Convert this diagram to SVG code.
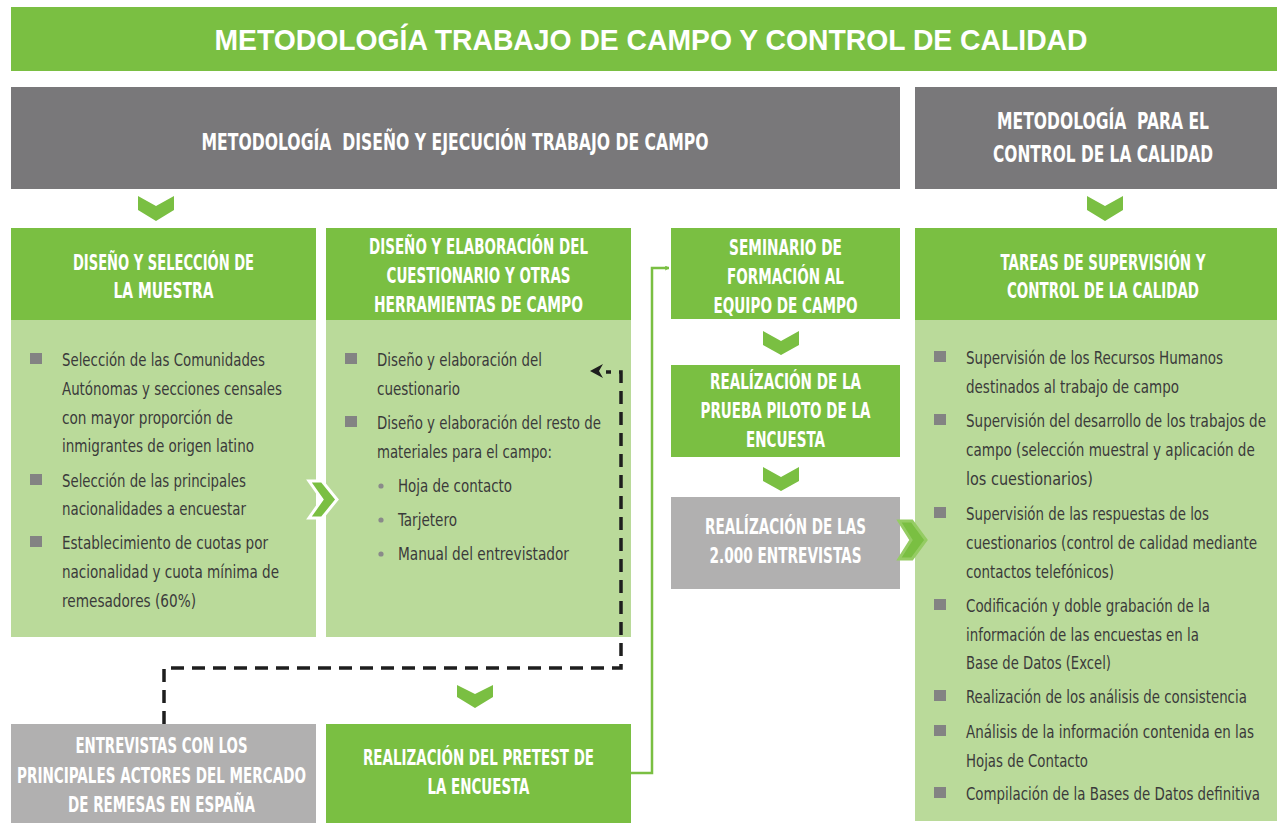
<svg xmlns="http://www.w3.org/2000/svg" width="1288" height="823" viewBox="0 0 1288 823">
<defs>
<style>
.g{fill:#7ABF42}
.lg{fill:#BADA9A}
.dg{fill:#79787A}
.gy{fill:#B1B0B0}
.h{font-family:"Liberation Sans Narrow","DejaVu Sans Condensed","Liberation Sans",sans-serif;font-weight:bold;font-size:20.5px;fill:#fff;text-anchor:middle}
.hb{font-size:22.5px}
.t{font-family:"Liberation Sans Narrow","DejaVu Sans Condensed","Liberation Sans",sans-serif;font-size:18.5px;fill:#3a3a3a}
.sq{fill:#838383}
.dot{fill:#8a8a8a}
.chev{fill:#7ABF42}
</style>
<marker id="ga" viewBox="0 0 10 10" refX="9" refY="5" markerWidth="5" markerHeight="5" orient="auto" markerUnits="userSpaceOnUse">
<polyline points="1,1 9,5 1,9" fill="none" stroke="#7ABF42" stroke-width="2"/>
</marker>
</defs>
<rect width="1288" height="823" fill="#fff"/>

<g id="title">
<rect x="11" y="7" width="1266" height="64" class="g"/>
<text x="651" y="50" font-family="Liberation Sans,Arial,sans-serif" font-weight="bold" font-size="29.5" fill="#fff" text-anchor="middle" textLength="873" lengthAdjust="spacingAndGlyphs">METODOLOGÍA TRABAJO DE CAMPO Y CONTROL DE CALIDAD</text>
</g>

<g id="hdr-diseno">
<rect x="11" y="87" width="889" height="102" class="dg"/>
<text class="h hb" x="455" y="150" textLength="507" lengthAdjust="spacingAndGlyphs" xml:space="preserve">METODOLOGÍA  DISEÑO Y EJECUCIÓN TRABAJO DE CAMPO</text>
</g>

<g id="hdr-control">
<rect x="915" y="87" width="362" height="102" class="dg"/>
<text class="h hb" x="1103" y="129" textLength="212" lengthAdjust="spacingAndGlyphs" xml:space="preserve">METODOLOGÍA  PARA EL</text>
<text class="h hb" x="1103" y="162" textLength="220" lengthAdjust="spacingAndGlyphs">CONTROL DE LA CALIDAD</text>
</g>

<g id="muestra">
<rect x="11" y="228" width="305" height="92" class="g"/>
<rect x="11" y="320" width="305" height="317" class="lg"/>
<text class="h" x="163.5" y="270" textLength="181" lengthAdjust="spacingAndGlyphs">DISEÑO Y SELECCIÓN DE</text>
<text class="h" x="163.5" y="298" textLength="100" lengthAdjust="spacingAndGlyphs">LA MUESTRA</text>
<rect class="sq" x="30" y="353" width="12" height="11"/>
<rect class="sq" x="30" y="474" width="12" height="11"/>
<rect class="sq" x="30" y="536" width="12" height="11"/>
<text class="t" x="62" y="366" textLength="203" lengthAdjust="spacingAndGlyphs">Selección de las Comunidades</text>
<text class="t" x="62" y="395" textLength="220" lengthAdjust="spacingAndGlyphs">Autónomas y secciones censales</text>
<text class="t" x="62" y="424" textLength="171" lengthAdjust="spacingAndGlyphs">con mayor proporción de</text>
<text class="t" x="62" y="452" textLength="192" lengthAdjust="spacingAndGlyphs">inmigrantes de origen latino</text>
<text class="t" x="62" y="487" textLength="184" lengthAdjust="spacingAndGlyphs">Selección de las principales</text>
<text class="t" x="62" y="515" textLength="184" lengthAdjust="spacingAndGlyphs">nacionalidades a encuestar</text>
<text class="t" x="62" y="549" textLength="206" lengthAdjust="spacingAndGlyphs">Establecimiento de cuotas por</text>
<text class="t" x="62" y="578" textLength="217" lengthAdjust="spacingAndGlyphs">nacionalidad y cuota mínima de</text>
<text class="t" x="62" y="607" textLength="134" lengthAdjust="spacingAndGlyphs">remesadores (60%)</text>
</g>

<g id="cuestionario">
<rect x="326" y="228" width="305" height="92" class="g"/>
<rect x="326" y="320" width="305" height="317" class="lg"/>
<text class="h" x="478.5" y="254" textLength="219" lengthAdjust="spacingAndGlyphs">DISEÑO Y ELABORACIÓN DEL</text>
<text class="h" x="478.5" y="283" textLength="184" lengthAdjust="spacingAndGlyphs">CUESTIONARIO Y OTRAS</text>
<text class="h" x="478.5" y="312" textLength="209" lengthAdjust="spacingAndGlyphs">HERRAMIENTAS DE CAMPO</text>
<rect class="sq" x="345" y="353" width="12" height="11"/>
<rect class="sq" x="345" y="416" width="12" height="11"/>
<text class="t" x="377" y="366" textLength="165" lengthAdjust="spacingAndGlyphs">Diseño y elaboración del</text>
<text class="t" x="377" y="395" textLength="83" lengthAdjust="spacingAndGlyphs">cuestionario</text>
<text class="t" x="377" y="429" textLength="224" lengthAdjust="spacingAndGlyphs">Diseño y elaboración del resto de</text>
<text class="t" x="377" y="458" textLength="175" lengthAdjust="spacingAndGlyphs">materiales para el campo:</text>
<circle class="dot" cx="381" cy="486" r="2.6"/>
<circle class="dot" cx="381" cy="520" r="2.6"/>
<circle class="dot" cx="381" cy="554" r="2.6"/>
<text class="t" x="398" y="492" textLength="114" lengthAdjust="spacingAndGlyphs">Hoja de contacto</text>
<text class="t" x="398" y="526" textLength="59" lengthAdjust="spacingAndGlyphs">Tarjetero</text>
<text class="t" x="398" y="560" textLength="171" lengthAdjust="spacingAndGlyphs">Manual del entrevistador</text>
</g>

<g id="seminario">
<rect x="671" y="228" width="229" height="91" class="g"/>
<text class="h" x="785.5" y="255" textLength="113" lengthAdjust="spacingAndGlyphs">SEMINARIO DE</text>
<text class="h" x="785.5" y="284" textLength="117" lengthAdjust="spacingAndGlyphs">FORMACIÓN AL</text>
<text class="h" x="785.5" y="313" textLength="144" lengthAdjust="spacingAndGlyphs">EQUIPO DE CAMPO</text>
</g>

<g id="piloto">
<rect x="671" y="365" width="229" height="92" class="g"/>
<text class="h" x="785.5" y="389" textLength="151" lengthAdjust="spacingAndGlyphs">REALÍZACIÓN DE LA</text>
<text class="h" x="785.5" y="418" textLength="170" lengthAdjust="spacingAndGlyphs">PRUEBA PILOTO DE LA</text>
<text class="h" x="785.5" y="447" textLength="79" lengthAdjust="spacingAndGlyphs">ENCUESTA</text>
</g>

<g id="entrevistas2000">
<rect x="671" y="497" width="229" height="92" class="gy"/>
<text class="h" x="785.5" y="534" textLength="161" lengthAdjust="spacingAndGlyphs">REALÍZACIÓN DE LAS</text>
<text class="h" x="785.5" y="563" textLength="152" lengthAdjust="spacingAndGlyphs">2.000 ENTREVISTAS</text>
</g>

<g id="supervision">
<rect x="915" y="228" width="362" height="92" class="g"/>
<rect x="915" y="320" width="362" height="501" class="lg"/>
<text class="h" x="1103" y="270" textLength="205" lengthAdjust="spacingAndGlyphs">TAREAS DE SUPERVISIÓN Y</text>
<text class="h" x="1103" y="298" textLength="192" lengthAdjust="spacingAndGlyphs">CONTROL DE LA CALIDAD</text>
<rect class="sq" x="934" y="351" width="12" height="11"/>
<rect class="sq" x="934" y="414" width="12" height="11"/>
<rect class="sq" x="934" y="507" width="12" height="11"/>
<rect class="sq" x="934" y="599" width="12" height="11"/>
<rect class="sq" x="934" y="690" width="12" height="11"/>
<rect class="sq" x="934" y="725" width="12" height="11"/>
<rect class="sq" x="934" y="787" width="12" height="11"/>
<text class="t" x="966" y="364" textLength="257" lengthAdjust="spacingAndGlyphs">Supervisión de los Recursos Humanos</text>
<text class="t" x="966" y="393" textLength="213" lengthAdjust="spacingAndGlyphs">destinados al trabajo de campo</text>
<text class="t" transform="translate(966,427) scale(0.8,1)" x="0" y="0" textLength="375" lengthAdjust="spacingAndGlyphs">Supervisión del desarrollo de los trabajos de</text>
<text class="t" transform="translate(966,456) scale(0.8,1)" x="0" y="0" textLength="361" lengthAdjust="spacingAndGlyphs">campo (selección muestral y aplicación de</text>
<text class="t" x="966" y="485" textLength="127" lengthAdjust="spacingAndGlyphs">los cuestionarios)</text>
<text class="t" x="966" y="520" textLength="243" lengthAdjust="spacingAndGlyphs">Supervisión de las respuestas de los</text>
<text class="t" transform="translate(966,549) scale(0.8,1)" x="0" y="0" textLength="364" lengthAdjust="spacingAndGlyphs">cuestionarios (control de calidad mediante</text>
<text class="t" x="966" y="578" textLength="148" lengthAdjust="spacingAndGlyphs">contactos telefónicos)</text>
<text class="t" x="966" y="612" textLength="244" lengthAdjust="spacingAndGlyphs">Codificación y doble grabación de la</text>
<text class="t" x="966" y="641" textLength="233" lengthAdjust="spacingAndGlyphs">información de las encuestas en la</text>
<text class="t" x="966" y="669" textLength="145" lengthAdjust="spacingAndGlyphs">Base de Datos (Excel)</text>
<text class="t" transform="translate(966,703) scale(0.8,1)" x="0" y="0" textLength="351" lengthAdjust="spacingAndGlyphs">Realización de los análisis de consistencia</text>
<text class="t" transform="translate(966,738) scale(0.8,1)" x="0" y="0" textLength="360" lengthAdjust="spacingAndGlyphs">Análisis de la información contenida en las</text>
<text class="t" x="966" y="767" textLength="122" lengthAdjust="spacingAndGlyphs">Hojas de Contacto</text>
<text class="t" transform="translate(966,800) scale(0.8,1)" x="0" y="0" textLength="367.5" lengthAdjust="spacingAndGlyphs">Compilación de la Bases de Datos definitiva</text>
</g>

<g id="actores">
<rect x="11" y="724" width="305" height="99" class="gy"/>
<text class="h" x="161.5" y="753" textLength="172" lengthAdjust="spacingAndGlyphs">ENTREVISTAS CON LOS</text>
<text class="h" x="161.5" y="783" textLength="289" lengthAdjust="spacingAndGlyphs">PRINCIPALES ACTORES DEL MERCADO</text>
<text class="h" x="161.5" y="812" textLength="187" lengthAdjust="spacingAndGlyphs">DE REMESAS EN ESPAÑA</text>
</g>

<g id="pretest">
<rect x="326" y="724" width="305" height="99" class="g"/>
<text class="h" x="478.5" y="765" textLength="231" lengthAdjust="spacingAndGlyphs">REALIZACIÓN DEL PRETEST DE</text>
<text class="h" x="478.5" y="794" textLength="102" lengthAdjust="spacingAndGlyphs">LA ENCUESTA</text>
</g>

<g id="connectors">
<polygon class="chev" points="138,196 156,206 174,196 174,210 156,221 138,210"/>
<polygon class="chev" points="1087,196 1105,206 1123,196 1123,210 1105,221 1087,210"/>
<polygon class="chev" points="763,331 781,341 799,331 799,345 781,355 763,345"/>
<polygon class="chev" points="763,467 781,477 799,467 799,481 781,491 763,481"/>
<polygon class="chev" points="457,685 475,694 493,685 493,697 475,708 457,697"/>
<polygon points="309,481 322,481 337,499.5 322,518 309,518 322,499.5" fill="#7ABF42" stroke="#fff" stroke-width="3" stroke-linejoin="miter"/>
<polygon points="899,521 912,521 926,540 912,559 899,559 911,540" fill="#7ABF42" stroke="#95CC63" stroke-width="3"/>
<polyline points="164,724 164,668 621,668 621,372 606,372" fill="none" stroke="#1e1e1e" stroke-width="3.5" stroke-dasharray="13,8"/>
<polygon points="590,371 603,364 599,371 603,378" fill="#1e1e1e"/>
<polyline points="631,773 652,773 652,268 669,268" fill="none" stroke="#7ABF42" stroke-width="2.5" marker-end="url(#ga)"/>
</g>
</svg>
